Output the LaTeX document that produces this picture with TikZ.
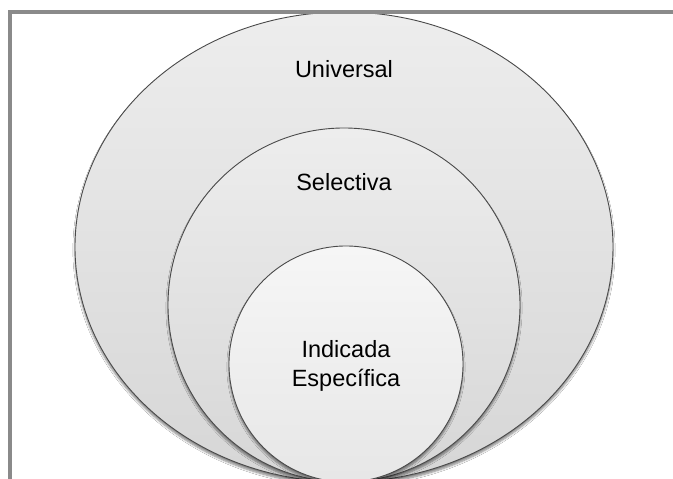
\documentclass[tikz,border=0pt]{standalone}
\usepackage{fontspec}
\setmainfont{Liberation Sans}
\usetikzlibrary{positioning,shapes.geometric,shadows.blur}

\definecolor{framegray}{HTML}{8A8A8A}
\definecolor{ringline}{HTML}{4A4A4A}

\tikzset{
	ring/.style={ellipse, draw=ringline, line width=0.9pt, inner sep=0pt,
		top color=gray!14, bottom color=gray!32,
		blur shadow={shadow xshift=0pt, shadow yshift=-3pt, shadow blur steps=6, shadow opacity=50}},
	core/.style={ellipse, draw=ringline, line width=0.9pt, inner sep=0pt,
		top color=gray!7, bottom color=gray!19,
		blur shadow={shadow xshift=0pt, shadow yshift=-3pt, shadow blur steps=6, shadow opacity=50}},
	tag/.style={font=\fontsize{23.5}{29}\selectfont, align=center, text=black}
}

\begin{document}
\begin{tikzpicture}[x=1pt,y=1pt]
	\useasboundingbox (0,0) rectangle (673,479);
	\fill[white] (0,0) rectangle (673,479);
	% nested rings
	\node[ring, minimum width=538, minimum height=470] (univ) at (344,232) {};
	\node[ring, minimum width=352, minimum height=354] (sel) at (344,174) {};
	\node[core, minimum width=234, minimum height=236] (ind) at (346,115) {};
	% labels
	\node[tag] (tuniv) at ([yshift=-58]univ.north) {Universal};
	\node[tag] (tsel) at ([yshift=-55]sel.north) {Selectiva};
	\node[tag] (tind) at ([yshift=-120]ind.north) {Indicada\\Específica};
	% frame
	\draw[framegray, line width=4pt] (10,0) -- (10,467) -- (673,467);
\end{tikzpicture}
\end{document}
